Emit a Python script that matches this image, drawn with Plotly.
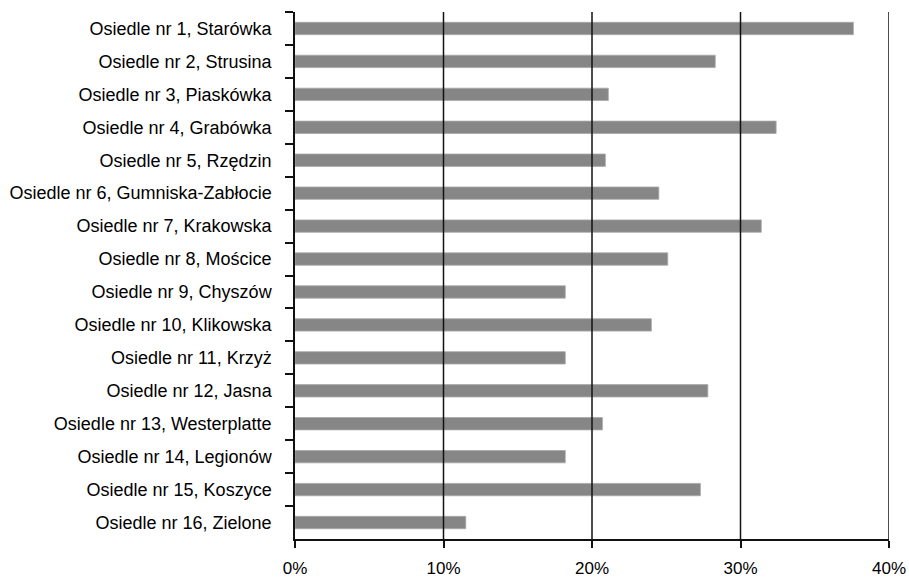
import plotly.graph_objects as go

# Osiedla (districts), listed top to bottom
districts = [
    "Osiedle nr 1, Starówka",
    "Osiedle nr 2, Strusina",
    "Osiedle nr 3, Piaskówka",
    "Osiedle nr 4, Grabówka",
    "Osiedle nr 5, Rzędzin",
    "Osiedle nr 6, Gumniska-Zabłocie",
    "Osiedle nr 7, Krakowska",
    "Osiedle nr 8, Mościce",
    "Osiedle nr 9, Chyszów",
    "Osiedle nr 10, Klikowska",
    "Osiedle nr 11, Krzyż",
    "Osiedle nr 12, Jasna",
    "Osiedle nr 13, Westerplatte",
    "Osiedle nr 14, Legionów",
    "Osiedle nr 15, Koszyce",
    "Osiedle nr 16, Zielone",
]

# Share per district (fraction)
shares = [
    0.376, 0.283, 0.211, 0.324, 0.209, 0.245, 0.314, 0.251,
    0.182, 0.240, 0.182, 0.278, 0.207, 0.182, 0.273, 0.115,
]

x_ticks = [0.0, 0.1, 0.2, 0.3, 0.4]
x_tick_labels = ["0%", "10%", "20%", "30%", "40%"]

FONT = "Liberation Sans, Arial, sans-serif"

fig = go.Figure(
    go.Bar(
        x=shares,
        y=districts,
        orientation="h",
        width=0.375,
        marker=dict(color="#868686", line=dict(color="#a8a8a8", width=0.8)),
        hoverinfo="x+y",
    )
)

# Vertical grid lines drawn above the bars
for t in x_ticks[1:]:
    fig.add_shape(
        type="line", xref="x", yref="paper",
        x0=t, x1=t, y0=0, y1=1,
        line=dict(color="#111111", width=1.5),
        layer="above",
    )

fig.update_layout(
    width=909,
    height=577,
    margin=dict(l=295, r=20, t=12, b=38, autoexpand=False),
    paper_bgcolor="white",
    plot_bgcolor="white",
    showlegend=False,
    font=dict(family=FONT, size=18, color="#000000"),
)

fig.update_xaxes(
    range=[0, 0.4],
    tickvals=x_ticks,
    ticktext=x_tick_labels,
    showgrid=False,
    zeroline=False,
    showline=True,
    linecolor="#111111",
    linewidth=1.5,
    ticks="outside",
    ticklen=7,
    tickwidth=1.5,
    tickcolor="#111111",
    tickfont=dict(family=FONT, size=17, color="#000000"),
    ticklabelstandoff=6,
    ticklabeloverflow="allow",
    automargin=False,
    layer="above traces",
)

fig.update_yaxes(
    type="category",
    autorange="reversed",
    showgrid=False,
    zeroline=False,
    showline=True,
    linecolor="#111111",
    linewidth=1.5,
    ticks="outside",
    tickson="boundaries",
    ticklen=8,
    tickwidth=1.5,
    tickcolor="#111111",
    tickfont=dict(family=FONT, size=18, color="#000000"),
    ticklabelstandoff=18,
    ticklabeloverflow="allow",
    automargin=False,
    layer="above traces",
)

fig.write_html("out.html")
